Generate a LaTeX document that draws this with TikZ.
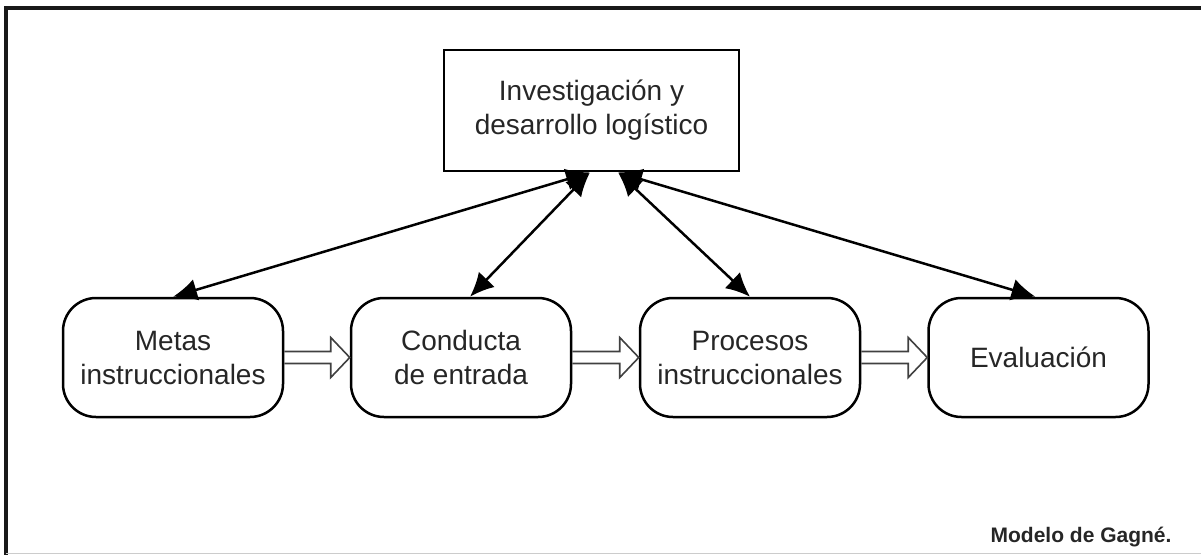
\documentclass[tikz,border=0pt]{standalone}
\usepackage{fontspec}
\setmainfont{Liberation Sans}
\usetikzlibrary{arrows.meta,calc}

\tikzset{
  frameline/.style={line width=3.5pt, black!90},
  topbox/.style={draw, line width=2.8pt, minimum width=295pt, minimum height=121pt,
    align=center, font=\fontsize{28}{34}\selectfont, text=black!85},
  stage/.style={draw, line width=2.5pt, rounded corners=33pt, minimum width=220pt,
    minimum height=119pt, align=center, font=\fontsize{28}{34}\selectfont, text=black!85},
  link/.style={line width=2.5pt, {Latex[length=24pt,width=22pt]}-{Latex[length=24pt,width=22pt]}},
  hollow/.style={line width=1.6pt, draw=black!75, line join=miter},
}

\begin{document}
\begin{tikzpicture}[x=1pt,y=-1pt]
\useasboundingbox (0,0) rectangle (1201,554);

% outer frame
\draw[frameline] (6,560) -- (6,8) -- (1210,8);
\draw[black!20, line width=1pt] (6,553) -- (1210,553);

% nodes
\node[topbox] (idl) at (591.5,110.5) {Investigación y\\desarrollo logístico};
\node[stage] (metas) at (173,357.5) {Metas\\instruccionales};
\node[stage] (cond) at (461,357.5) {Conducta\\de entrada};
\node[stage] (proc) at (750,357.5) {Procesos\\instruccionales};
\node[stage] (eval) at (1038.5,357.5) {Evaluación};

% two-way links with the research box
\coordinate (hl) at ($(idl.south)+(-1.5,0)$);
\coordinate (hr) at ($(idl.south)+(26.5,0)$);
\draw[link] (hl) -- (metas.north);
\draw[link] (hl) -- ($(cond.north)+(9,0)$);
\draw[link] (hr) -- (proc.north);
\draw[link] (hr) -- ($(eval.north)+(-3,0)$);

% hollow flow arrows between stages
\foreach \a/\b in {metas/cond, cond/proc, proc/eval}{
  \draw[hollow] ($(\a.east)+(0,-6)$) -- ($(\b.west)+(-19,-6)$) -- ($(\b.west)+(-19,-20)$)
    -- (\b.west) -- ($(\b.west)+(-19,20)$) -- ($(\b.west)+(-19,6)$) -- ($(\a.east)+(0,6)$);
}

% caption
\node[anchor=base east, font=\bfseries\fontsize{21}{25}\selectfont, text=black!85] (cap)
  at (1175,542) {Modelo de Gagné.};
\end{tikzpicture}
\end{document}
